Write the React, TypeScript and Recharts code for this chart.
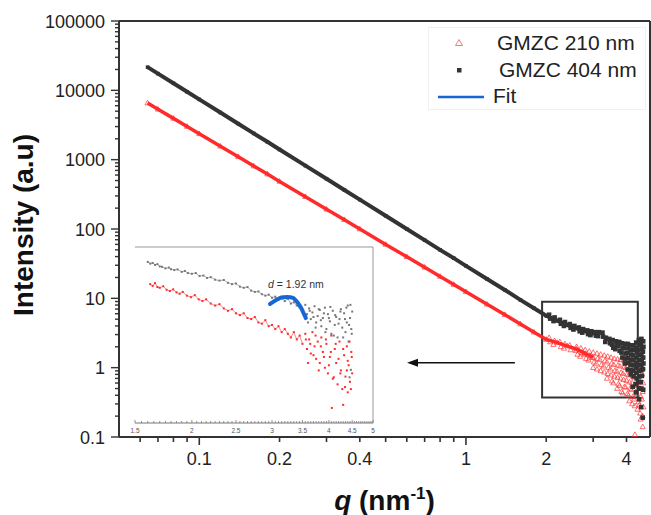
import React from 'react';
import {
  ScatterChart,
  Scatter,
  XAxis,
  YAxis,
  Legend,
  ReferenceLine,
  ReferenceArea,
  ReferenceDot,
} from 'recharts';

const FONT = 'Arial, "Liberation Sans", Helvetica, sans-serif';

// main plot, smooth power-law part (q in nm^-1, intensity in a.u.)
const qSmooth = [0.064, 0.07, 0.08, 0.09, 0.1, 0.12, 0.14, 0.16, 0.18, 0.2, 0.25, 0.3, 0.35, 0.4, 0.5, 0.6, 0.7, 0.8, 0.9, 1.0, 1.2, 1.4, 1.6, 1.8, 2.0, 2.2, 2.4, 2.6, 2.8, 3.0];
const i210Smooth = [6550, 5330, 3940, 3010, 2360, 1560, 1100, 809, 620, 486, 292, 193, 136, 100, 60, 39.8, 28, 20.7, 15.8, 12.4, 8.2, 5.8, 4.25, 3.25, 2.55, 2.3, 2.05, 1.85, 1.6, 1.4];
const i404Smooth = [21600, 17400, 12650, 9530, 7400, 4780, 3300, 2390, 1810, 1400, 820, 530, 366, 265, 155, 100, 69, 50, 38, 29.4, 19, 13.2, 9.5, 7.2, 5.6, 4.75, 4.1, 3.7, 3.35, 3.1];

// noisy high-q tail, [q, I]
const tail210 = [
  [2.05, 2.7], [2.07, 2.35], [2.15, 2.45], [2.13, 2.15], [2.25, 2.35], [2.27, 2.0], [2.35, 2.2], [2.33, 1.9],
  [2.45, 2.1], [2.47, 1.8], [2.6, 2.0], [2.58, 1.75], [2.62, 1.55], [2.7, 1.9], [2.72, 1.65], [2.68, 1.45],
  [2.8, 1.8], [2.78, 1.55], [2.82, 1.35], [2.9, 1.72], [2.92, 1.48], [2.88, 1.28],
  [3.0, 1.65], [2.98, 1.4], [3.02, 1.2], [3.0, 1.0], [3.1, 1.6], [3.12, 1.35], [3.08, 1.15], [3.1, 0.95],
  [3.2, 1.55], [3.18, 1.3], [3.22, 1.1], [3.2, 0.9], [3.3, 1.5], [3.32, 1.25], [3.28, 1.05], [3.3, 0.86],
  [3.4, 1.45], [3.38, 1.2], [3.42, 1.0], [3.4, 0.82], [3.38, 0.7],
  [3.5, 1.4], [3.52, 1.15], [3.48, 0.95], [3.5, 0.78], [3.53, 0.64],
  [3.6, 1.35], [3.58, 1.1], [3.62, 0.9], [3.6, 0.75], [3.57, 0.6],
  [3.7, 1.32], [3.72, 1.08], [3.68, 0.88], [3.7, 0.72], [3.73, 0.58], [3.69, 0.5],
  [3.8, 1.3], [3.78, 1.05], [3.82, 0.85], [3.8, 0.7], [3.77, 0.55], [3.83, 0.45],
  [3.9, 1.28], [3.92, 1.02], [3.88, 0.82], [3.9, 0.67], [3.93, 0.53], [3.87, 0.43],
  [4.0, 1.25], [3.98, 1.0], [4.02, 0.8], [4.0, 0.65], [3.97, 0.52], [4.03, 0.42],
  [4.1, 1.22], [4.12, 0.98], [4.08, 0.78], [4.1, 0.62], [4.13, 0.5], [4.07, 0.4], [4.1, 0.33],
  [4.2, 1.2], [4.18, 0.95], [4.22, 0.75], [4.2, 0.6], [4.17, 0.48], [4.23, 0.38], [4.2, 0.3],
  [4.3, 1.15], [4.32, 0.92], [4.28, 0.72], [4.3, 0.57], [4.33, 0.45], [4.27, 0.35], [4.3, 0.28], [4.3, 0.108],
  [4.4, 1.1], [4.38, 0.9], [4.42, 0.7], [4.4, 0.55], [4.37, 0.42], [4.43, 0.32], [4.4, 0.25],
  [4.5, 1.05], [4.52, 0.85], [4.48, 0.65], [4.5, 0.5], [4.53, 0.38], [4.47, 0.29], [4.5, 0.22], [4.52, 0.18],
  [4.6, 1.0], [4.58, 0.8], [4.62, 0.6], [4.6, 0.45], [4.57, 0.35], [4.63, 0.27], [4.6, 0.2], [4.6, 0.14],
];
const tail404 = [
  [2.05, 5.8], [2.07, 5.1], [2.15, 5.3], [2.13, 4.7], [2.25, 4.9], [2.27, 4.3], [2.35, 4.55], [2.33, 4.0],
  [2.45, 4.25], [2.47, 3.75], [2.55, 4.0], [2.53, 3.55], [2.65, 3.8], [2.67, 3.35], [2.75, 3.6], [2.73, 3.2],
  [2.85, 3.45], [2.87, 3.05], [2.95, 3.35], [2.93, 2.95], [3.05, 3.25], [3.07, 2.9], [3.15, 3.25], [3.13, 2.85],
  [3.25, 3.2], [3.27, 2.8], [3.35, 2.7], [3.33, 2.35], [3.45, 2.6], [3.47, 2.25],
  [3.55, 2.5], [3.53, 2.15], [3.57, 1.94], [3.65, 2.4], [3.67, 2.1], [3.63, 1.85],
  [3.75, 2.35], [3.73, 2.05], [3.77, 1.75], [3.76, 2.29], [3.85, 2.25], [3.87, 1.95], [3.83, 1.65], [3.86, 1.4],
  [3.95, 2.2], [3.93, 1.9], [3.97, 1.6], [3.95, 1.35], [3.94, 1.15],
  [4.05, 2.2], [4.07, 1.9], [4.03, 1.62], [4.05, 1.38], [4.06, 1.17], [4.04, 0.94],
  [4.15, 2.1], [4.13, 1.8], [4.17, 1.55], [4.15, 1.3], [4.14, 1.1], [4.16, 0.92], [4.15, 0.8],
  [4.25, 2.1], [4.27, 1.8], [4.23, 1.5], [4.25, 1.28], [4.26, 1.08], [4.24, 0.9], [4.25, 0.75], [4.22, 0.53],
  [4.35, 2.3], [4.33, 1.95], [4.37, 1.65], [4.35, 1.4], [4.36, 1.18], [4.34, 1.0], [4.35, 0.84], [4.37, 0.7], [4.33, 0.58], [4.35, 0.44],
  [4.45, 2.5], [4.47, 2.1], [4.43, 1.8], [4.45, 1.52], [4.46, 1.28], [4.44, 1.08], [4.45, 0.9], [4.47, 0.75], [4.43, 0.62], [4.45, 0.5], [4.46, 0.35],
  [4.55, 2.6], [4.53, 2.2], [4.57, 1.85], [4.55, 1.55], [4.56, 1.3], [4.54, 1.1], [4.55, 0.92], [4.57, 0.76], [4.53, 0.62], [4.55, 0.5], [4.54, 0.27],
  [4.62, 2.4], [4.63, 2.0], [4.61, 1.7], [4.62, 1.4], [4.63, 1.15], [4.61, 0.95], [4.62, 0.48], [4.6, 0.19],
];

// inset (zoom of the high-q region)
const insetQGray = [1.6, 1.62, 1.64, 1.66, 1.68, 1.7, 1.72, 1.75, 1.78, 1.8, 1.83, 1.86, 1.9, 1.93, 1.96, 2.0, 2.04, 2.08, 2.12, 2.16, 2.2, 2.25, 2.3, 2.35, 2.4, 2.45, 2.5, 2.55, 2.6, 2.65, 2.7, 2.75, 2.8, 2.85, 2.9, 2.95, 3.0, 3.05, 3.1, 3.15, 3.2, 3.25, 3.3, 3.35, 3.4, 3.45, 3.5, 3.55, 3.58, 3.62, 3.65, 3.68, 3.72, 3.75, 3.78, 3.82, 3.85, 3.88, 3.92, 3.95, 3.98, 4.02, 4.05, 4.08, 4.12, 4.15, 4.18, 4.22, 4.25, 4.28, 4.32, 4.35, 4.38, 4.4, 4.42, 4.45, 4.47, 4.48, 4.5,
  3.56, 3.6, 3.63, 3.7, 3.74, 3.8, 3.84, 3.9, 3.93, 4.0, 4.03, 4.1, 4.13, 4.2, 4.24, 4.3, 4.34, 4.37, 4.43, 4.46, 4.49, 4.44];
const insetIGray = [18.5, 17.5, 17.9, 16.8, 17.2, 16.0, 15.8, 15.0, 15.4, 14.6, 14.2, 14.5, 13.4, 13.8, 12.9, 12.6, 12.9, 11.7, 11.9, 11.0, 11.3, 10.4, 10.1, 10.3, 9.4, 9.0, 9.2, 8.3, 8.0, 8.2, 7.3, 7.0, 7.1, 6.5, 6.2, 6.4, 5.8, 6.0, 5.4, 5.7, 5.2, 5.6, 4.8, 5.0, 4.5, 4.2, 3.9, 4.6, 3.4, 4.1, 2.9, 3.6, 4.4, 2.6, 3.2, 3.9, 2.3, 3.0, 4.2, 2.1, 3.4, 2.7, 1.8, 3.8, 2.4, 3.1, 1.6, 2.9, 4.0, 2.2, 3.5, 1.9, 2.6, 4.5, 1.4, 3.0, 0.56, 2.1, 3.7,
  3.3, 2.6, 3.8, 3.1, 2.2, 4.0, 2.8, 3.5, 1.9, 3.0, 4.3, 1.7, 3.3, 2.5, 3.7, 1.6, 2.9, 4.2, 2.4, 4.6, 1.8, 0.44];
const insetQRed = [1.62, 1.64, 1.66, 1.68, 1.7, 1.73, 1.76, 1.79, 1.82, 1.85, 1.88, 1.91, 1.95, 1.99, 2.03, 2.07, 2.11, 2.15, 2.2, 2.25, 2.3, 2.35, 2.4, 2.45, 2.5, 2.55, 2.6, 2.65, 2.7, 2.75, 2.8, 2.85, 2.9, 2.95, 3.0, 3.05, 3.1, 3.15, 3.2, 3.25, 3.3, 3.35, 3.4, 3.45, 3.5, 3.55, 3.58, 3.62, 3.65, 3.68, 3.72, 3.75, 3.78, 3.82, 3.85, 3.88, 3.92, 3.95, 3.98, 4.02, 4.05, 4.06, 4.08, 4.12, 4.15, 4.18, 4.22, 4.25, 4.28, 4.3, 4.32, 4.35, 4.38, 4.4, 4.42, 4.45, 4.48, 4.5,
  3.56, 3.6, 3.64, 3.7, 3.74, 3.8, 3.84, 3.9, 3.94, 4.0, 4.04, 4.1, 4.14, 4.2, 4.24, 4.3, 4.34, 4.4, 4.44, 4.47, 4.49, 4.38];
const insetIRed = [9.0, 8.5, 9.3, 8.2, 8.0, 8.4, 7.5, 7.2, 7.6, 6.9, 6.6, 7.0, 6.2, 5.9, 6.3, 5.5, 5.2, 5.5, 4.8, 4.5, 4.7, 4.1, 3.8, 4.0, 3.5, 3.3, 3.5, 3.0, 2.9, 3.1, 2.6, 2.5, 2.8, 2.3, 2.4, 2.1, 2.3, 1.9, 2.1, 1.8, 1.6, 1.9, 1.5, 1.7, 1.3, 1.8, 1.1, 1.5, 0.95, 1.9, 1.2, 0.8, 1.4, 0.7, 1.6, 1.0, 0.6, 1.3, 0.5, 0.85, 1.7, 0.163, 0.42, 1.1, 0.7, 0.35, 1.4, 0.55, 0.3, 0.18, 0.9, 0.45, 1.2, 0.27, 0.65, 0.38, 1.0, 0.5,
  1.5, 0.7, 1.3, 0.9, 1.7, 0.55, 1.2, 0.85, 1.5, 0.65, 1.0, 0.44, 1.3, 0.8, 0.5, 1.1, 0.32, 0.75, 1.4, 0.3, 0.85, 0.55];
const fitQ = [2.97, 3.05, 3.12, 3.18, 3.24, 3.29, 3.34, 3.38, 3.42, 3.47, 3.51, 3.56];
const fitI = [4.73, 5.3, 5.74, 5.88, 5.93, 5.88, 5.74, 5.35, 4.89, 4.25, 3.65, 3.0];

const legendNames = ['GMZC 210 nm', 'GMZC 404 nm', 'Fit'];
const xTickLabels = [0.1, 0.2, 0.4, 1, 2, 4];
const xTicks = [0.06, 0.07, 0.08, 0.09, 0.1, 0.2, 0.3, 0.4, 0.5, 0.6, 0.7, 0.8, 0.9, 1, 2, 3, 4];
const xMajorTicks = [0.1, 1];
const yTickLabels = [0.1, 1, 10, 100, 1000, 10000, 100000];
const yTicks = yTickLabels.flatMap((d) =>
  d < 100000 ? [1, 2, 3, 4, 5, 6, 7, 8, 9].map((k) => (k === 1 ? d : d * k)) : [d]
);
const insetTickLabels = [1.5, 2, 2.5, 3, 3.5, 4, 4.5, 5];
const insetTicks = Array.from({ length: 71 }, (_, i) => Math.round((1.5 + i * 0.05) * 100) / 100);

const pts = (qs: number[], is: number[]) => qs.map((q, i) => ({ q, I: is[i] }));
const pairs = (rows: number[][]) => rows.map(([q, I]) => ({ q, I }));

const RED = '#ff2b2b';
const DARK = '#333333';
const BLUE = '#1766d6';

const Square = (p: any) => (
  <rect x={p.cx - 1.8} y={p.cy - 1.8} width={3.6} height={3.6} fill={DARK} />
);
const BigSquare = (p: any) => (
  <rect x={p.cx - 2.3} y={p.cy - 2.3} width={4.6} height={4.6} fill={DARK} />
);
const Triangle = (p: any) => (
  <polygon
    points={`${p.cx},${p.cy - 2.8} ${p.cx + 2.6},${p.cy + 1.8} ${p.cx - 2.6},${p.cy + 1.8}`}
    fill="none"
    stroke={RED}
    strokeOpacity={0.75}
    strokeWidth={0.9}
  />
);
const Dot = (color: string) => (p: any) => (
  <rect x={p.cx - 1} y={p.cy - 1} width={2} height={2} fill={color} />
);
const NoShape = () => <g />;

const XTick = (props: any) => {
  const { x, y, payload } = props;
  const v = payload.value;
  const len = xMajorTicks.includes(v) ? 8 : 5;
  return (
    <g>
      <line x1={x} x2={x} y1={y} y2={y + len} stroke={DARK} strokeWidth={1.6} />
      {xTickLabels.includes(v) && (
        <text x={x} y={y + 28} textAnchor="middle" fontSize={18} fontFamily={FONT} fill="#222">
          {v}
        </text>
      )}
    </g>
  );
};

const YTick = (props: any) => {
  const { x, y, payload } = props;
  const v = payload.value;
  const major = yTickLabels.includes(v);
  return (
    <g>
      <line x1={x} x2={x - (major ? 8 : 4)} y1={y} y2={y} stroke={DARK} strokeWidth={1.4} />
      {major && (
        <text x={x - 14} y={y + 6.5} textAnchor="end" fontSize={18} fontFamily={FONT} fill="#222">
          {v}
        </text>
      )}
    </g>
  );
};

const InsetTick = (props: any) => {
  const { x, y, payload } = props;
  const lab = insetTickLabels.find((t) => Math.abs(t - payload.value) < 1e-6);
  return (
    <g>
      <line x1={x} x2={x} y1={y} y2={y - (lab !== undefined ? 3 : 2)} stroke="#777" strokeWidth={0.8} />
      {lab !== undefined && (
        <text x={x} y={y + 10} textAnchor="middle" fontSize={6.5} fontFamily={FONT} fill="#555">
          {lab}
        </text>
      )}
    </g>
  );
};

const YTitle = (props: any) => {
  const vb = props.viewBox;
  const cx = vb.x + 33;
  const cy = vb.y + vb.height / 2 - 4;
  return (
    <text
      x={cx}
      y={cy}
      transform={`rotate(-90 ${cx} ${cy})`}
      textAnchor="middle"
      fontSize={28}
      fontWeight="bold"
      fontFamily={FONT}
      fill="#111"
    >
      Intensity (a.u)
    </text>
  );
};

const XTitle = (props: any) => {
  const vb = props.viewBox;
  const cx = vb.x + vb.width / 2;
  const by = vb.y + 73;
  return (
    <text x={cx} y={by} textAnchor="middle" fontSize={28} fontWeight="bold" fontFamily={FONT} fill="#111">
      <tspan fontStyle="italic">q</tspan>
      <tspan> (nm</tspan>
      <tspan fontSize={17} dy={-11}>-1</tspan>
      <tspan dy={11}>)</tspan>
    </text>
  );
};

const Arrow = (p: any) => {
  const { x1, y1, x2, y2 } = p;
  return (
    <g>
      <line x1={x1} y1={y1} x2={x2 + 8} y2={y2} stroke="#111" strokeWidth={1.5} />
      <polygon points={`${x2},${y2} ${x2 + 11},${y2 - 4} ${x2 + 11},${y2 + 4}`} fill="#111" />
    </g>
  );
};

const DLabel = (p: any) => (
  <text x={p.cx} y={p.cy + 3.5} fontSize={10.5} fontFamily={FONT} fill="#333">
    <tspan fontStyle="italic">d</tspan> = 1.92 nm
  </text>
);

const LegendBox = () => {
  const rowTop = [15, 42, 68];
  const textLeft = [68, 70, 64];
  return (
    <div
      style={{
        position: 'relative',
        width: 218,
        height: 83,
        boxSizing: 'border-box',
        border: '1px solid #f0f0f0',
        background: '#fff',
        fontFamily: FONT,
        fontSize: 21,
        color: '#222',
      }}
    >
      <svg width={218} height={83} style={{ position: 'absolute', left: 0, top: 0 }}>
        <polygon points="30,11.5 33.5,17.5 26.5,17.5" fill="none" stroke="#f07a7a" strokeWidth={1} />
        <rect x={28} y={40} width={4.5} height={4.5} fill={DARK} />
        <line x1={9} x2={55} y1={69} y2={69} stroke={BLUE} strokeWidth={2.5} />
      </svg>
      {legendNames.map((n, i) => (
        <div
          key={n}
          style={{ position: 'absolute', left: textLeft[i], top: rowTop[i] - 12, lineHeight: '24px', whiteSpace: 'nowrap' }}
        >
          {n}
        </div>
      ))}
    </div>
  );
};

const insetGray = pts(insetQGray, insetIGray);
const insetRed = pts(insetQRed, insetIRed);

export default function App() {
  return (
    <div style={{ position: 'absolute', left: 0, top: 0, width: 651, height: 515, background: '#fff' }}>
      <ScatterChart width={651} height={515} margin={{ top: 21, right: 1, left: 0, bottom: 0 }}>
        <XAxis
          type="number"
          dataKey="q"
          scale="log"
          domain={[0.05, 4.9]}
          allowDataOverflow
          ticks={xTicks}
          interval={0}
          tick={<XTick />}
          tickLine={false}
          tickSize={0}
          tickMargin={0}
          height={78}
          axisLine={{ stroke: DARK, strokeWidth: 2 }}
          label={XTitle}
        />
        <YAxis
          type="number"
          dataKey="I"
          scale="log"
          domain={[0.1, 100000]}
          allowDataOverflow
          ticks={yTicks}
          interval={0}
          tick={<YTick />}
          tickLine={false}
          tickSize={0}
          tickMargin={0}
          width={119}
          axisLine={{ stroke: DARK, strokeWidth: 2 }}
          label={YTitle}
        />
        <ReferenceLine y={100000} stroke={DARK} strokeWidth={2} />
        <ReferenceLine x={4.9} stroke={DARK} strokeWidth={2} />
        <Scatter
          name={legendNames[0]}
          data={pts(qSmooth, i210Smooth)}
          fill={RED}
          shape={Triangle}
          line={{ stroke: RED, strokeWidth: 3.5 }}
          isAnimationActive={false}
        />
        <Scatter data={pairs(tail210)} fill={RED} shape={Triangle} legendType="none" isAnimationActive={false} />
        <Scatter
          name={legendNames[1]}
          data={pts(qSmooth, i404Smooth)}
          fill={DARK}
          shape={Square}
          line={{ stroke: DARK, strokeWidth: 4 }}
          isAnimationActive={false}
        />
        <Scatter data={pairs(tail404)} fill={DARK} shape={BigSquare} legendType="none" isAnimationActive={false} />
        <ReferenceArea x1={1.93} x2={4.41} y1={0.37} y2={8.9} fill="none" stroke={DARK} strokeWidth={2} />
        <ReferenceLine
          segment={[
            { x: 1.526, y: 1.18 },
            { x: 0.601, y: 1.18 },
          ]}
          shape={Arrow}
        />
        <Legend
          layout="vertical"
          align="center"
          verticalAlign="middle"
          content={LegendBox}
          wrapperStyle={{ position: 'absolute', left: 428, top: 27, width: 218, height: 83 }}
        />
      </ScatterChart>

      <div style={{ position: 'absolute', left: 130, top: 242 }}>
        <ScatterChart width={250} height={200} margin={{ top: 5, right: 7, left: 5, bottom: 0 }}>
          <XAxis
            type="number"
            dataKey="q"
            scale="log"
            domain={[1.5, 5]}
            allowDataOverflow
            ticks={insetTicks}
            interval={0}
            tick={<InsetTick />}
            tickLine={false}
            tickSize={0}
            tickMargin={0}
            height={19}
            axisLine={{ stroke: '#777', strokeWidth: 1 }}
          />
          <YAxis
            type="number"
            dataKey="I"
            scale="log"
            domain={[0.1, 30]}
            allowDataOverflow
            width={0}
            tick={false}
            tickLine={false}
            axisLine={{ stroke: '#777', strokeWidth: 1 }}
          />
          <ReferenceLine y={30} stroke="#999" strokeWidth={1} />
          <ReferenceLine x={5} stroke="#999" strokeWidth={1} />
          <Scatter
            data={insetGray.filter((d) => d.q < 3.55)}
            fill="#999"
            shape={NoShape}
            line={{ stroke: '#999', strokeWidth: 0.8 }}
            isAnimationActive={false}
          />
          <Scatter
            data={insetRed.filter((d) => d.q < 3.55)}
            fill="#ff6a6a"
            shape={NoShape}
            line={{ stroke: '#ff6a6a', strokeWidth: 0.8 }}
            isAnimationActive={false}
          />
          <Scatter data={insetGray} fill="#777" shape={Dot('#777')} isAnimationActive={false} />
          <Scatter data={insetRed} fill={RED} shape={Dot(RED)} isAnimationActive={false} />
          <Scatter
            data={pts(fitQ, fitI)}
            fill={BLUE}
            shape={NoShape}
            line={{ stroke: BLUE, strokeWidth: 4, strokeLinecap: 'round' }}
            lineJointType="natural"
            isAnimationActive={false}
          />
          <ReferenceDot x={2.94} y={9.0} shape={DLabel} />
        </ScatterChart>
      </div>
    </div>
  );
}
